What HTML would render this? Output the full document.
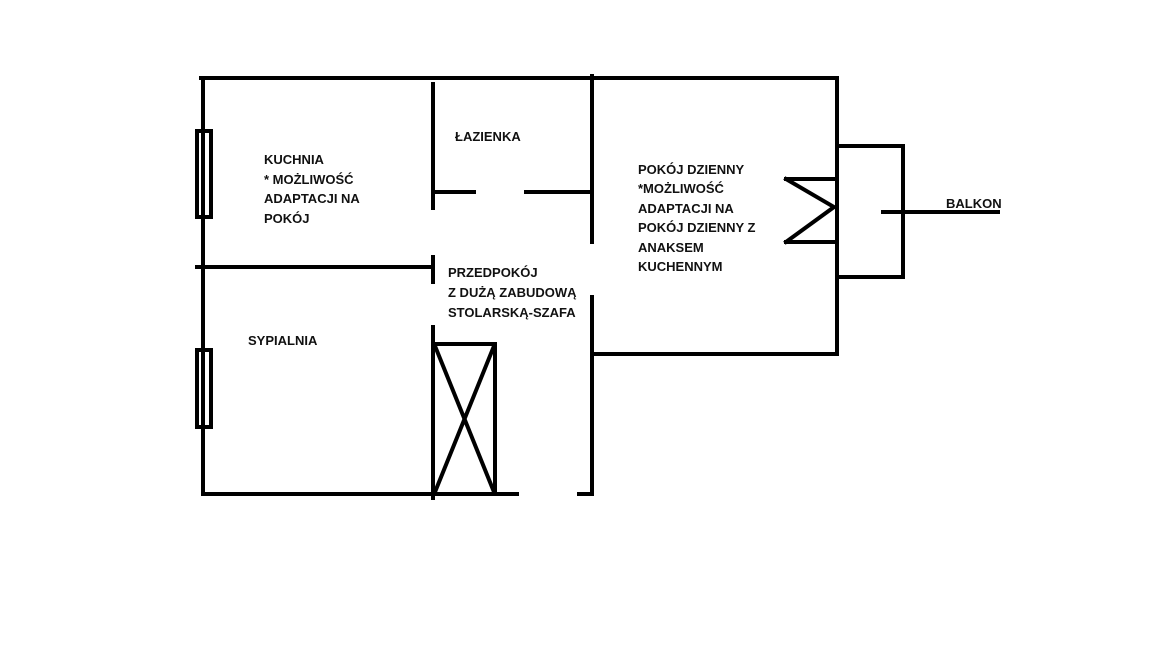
<!DOCTYPE html>
<html><head><meta charset="utf-8"><style>
html,body{margin:0;padding:0;background:#fff;}
svg{display:block}
text{font-family:"Liberation Sans",sans-serif;font-weight:bold;font-size:13px;fill:#111;}
</style></head><body>
<svg width="1152" height="648" viewBox="0 0 1152 648" xmlns="http://www.w3.org/2000/svg">
<g stroke="#000" stroke-width="4" fill="none" stroke-linecap="square">
<line x1="201" y1="78" x2="837" y2="78"/>
<line x1="203" y1="78" x2="203" y2="494"/>
<line x1="203" y1="494" x2="517" y2="494"/>
<line x1="579" y1="494" x2="591" y2="494"/>
<rect x="197" y="131" width="14" height="86"/>
<rect x="197" y="350" width="14" height="77"/>
<line x1="197" y1="267" x2="433" y2="267"/>
<line x1="433" y1="84" x2="433" y2="208"/>
<line x1="433" y1="257" x2="433" y2="282"/>
<line x1="433" y1="327" x2="433" y2="498"/>
<line x1="433" y1="192" x2="474" y2="192"/>
<line x1="526" y1="192" x2="591" y2="192"/>
<line x1="592" y1="76" x2="592" y2="242"/>
<line x1="592" y1="297" x2="592" y2="494"/>
<rect x="433" y="344" width="62" height="150"/>
<line x1="435" y1="346" x2="494" y2="492"/>
<line x1="494" y1="346" x2="435" y2="492"/>
<line x1="592" y1="354" x2="837" y2="354"/>
<line x1="837" y1="78" x2="837" y2="354"/>
<polyline points="837,146 903,146 903,277 837,277"/>
<line x1="786" y1="179" x2="837" y2="179"/>
<line x1="786" y1="242" x2="837" y2="242"/>
<polyline points="786,179 834,207 786,242"/>
<line x1="883" y1="212" x2="998" y2="212"/>
</g>
<text x="264" y="164">KUCHNIA</text>
<text x="264" y="184">* MOŻLIWOŚĆ</text>
<text x="264" y="203">ADAPTACJI NA</text>
<text x="264" y="223">POKÓJ</text>
<text x="455" y="141">ŁAZIENKA</text>
<text x="448" y="277">PRZEDPOKÓJ</text>
<text x="448" y="297">Z DUŻĄ ZABUDOWĄ</text>
<text x="448" y="317">STOLARSKĄ-SZAFA</text>
<text x="248" y="345">SYPIALNIA</text>
<text x="638" y="174">POKÓJ DZIENNY</text>
<text x="638" y="193">*MOŻLIWOŚĆ</text>
<text x="638" y="213">ADAPTACJI NA</text>
<text x="638" y="232">POKÓJ DZIENNY Z</text>
<text x="638" y="252">ANAKSEM</text>
<text x="638" y="271">KUCHENNYM</text>
<text x="946" y="208">BALKON</text>
</svg>
</body></html>
